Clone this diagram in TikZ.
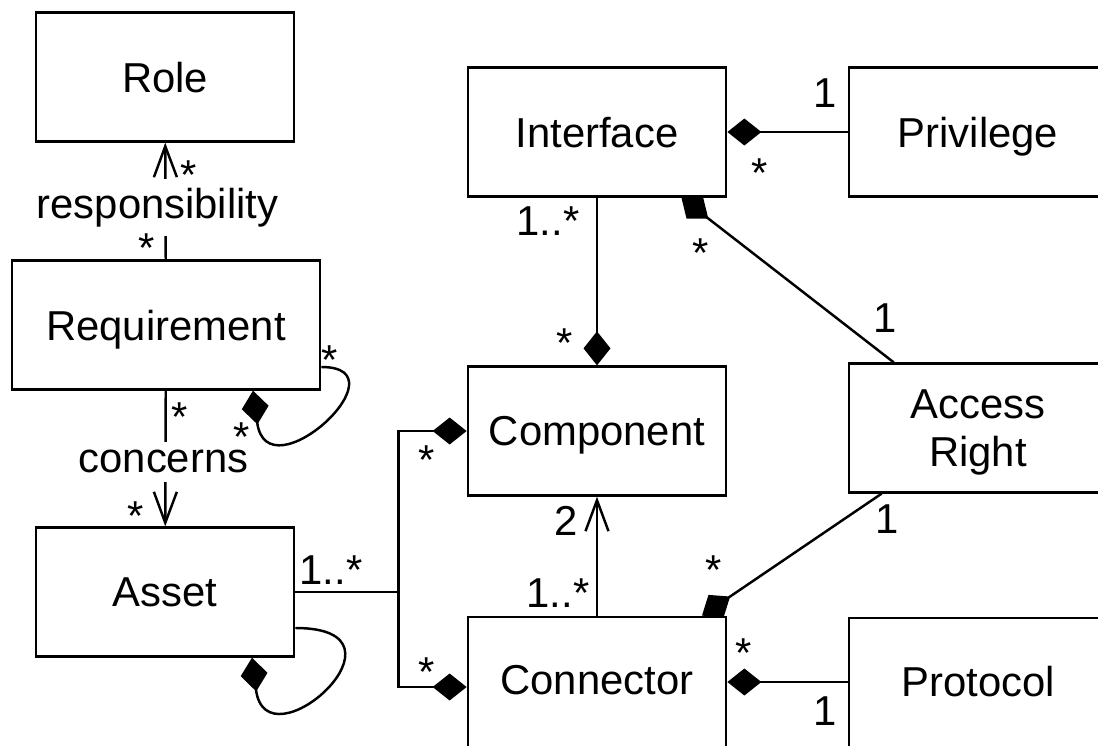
\documentclass[tikz,border=0pt]{standalone}
\usepackage{fontspec}
\setmainfont{Liberation Sans}
\usetikzlibrary{arrows.meta,positioning}

\begin{document}
\begin{tikzpicture}[x=0.02cm,y=-0.02cm,every node/.style={font=\fontsize{23.8}{27.3}\selectfont},
   cls/.style={draw,fill=white,line width=1.6pt,minimum width=5.16cm,minimum height=2.57cm,inner sep=0pt,align=center,text depth=0pt},
   cut/.style={minimum height=2.8cm,text depth=0.28cm},
   assoc/.style={line width=1.4pt},
   compo/.style={assoc,{Diamond[length=0.68cm,width=0.54cm]}-},
   navig/.style={assoc,-{Straight Barb[length=0.62cm,width=0.46cm]}},
   lbl/.style={fill=white,inner xsep=2pt,inner ysep=5pt},
   mstar/.style={anchor=base,yshift=-0.48cm,inner sep=0pt},
   mnum/.style={anchor=base,yshift=-0.3cm,inner sep=0pt}]
  \useasboundingbox (0,0) rectangle (1098,745);
  \clip (0,0) rectangle (1098,745);
  \node[cls](role) at (165,77){Role};
  \node[cls,minimum width=6.16cm](req) at (166,325){Requirement};
  \node[cls](asset) at (165,592){Asset};
  \node[cls](iface) at (597,132){Interface};
  \node[cls](priv) at (978,132){Privilege};
  \node[cls](comp) at (597,431){Component};
  \node[cls](access) at (978,428){Access\\Right};
  \node[cls,cut](conn) at (597,687){Connector};
  \node[cls,cut](proto) at (978,688){Protocol};
  \coordinate (fork) at ([xshift=2.06cm]asset.east);
  \draw[navig](req) -- node[lbl,pos=0.445,xshift=-0.16cm]{responsibility}(role);
  \draw[navig](req) -- node[lbl,pos=0.525,xshift=-0.04cm]{concerns}(asset);
  \draw[navig](conn) -- (comp);
  \foreach \a/\b in {comp/iface,iface/priv,iface/access,conn/access}\draw[compo](\a) -- (\b);
  \draw[compo]([yshift=0.1cm]conn.east) -- ([yshift=0.1cm]conn.east -| proto.west);
  \draw[compo](comp.west) -| (fork) -- (asset.east);
  \draw[compo](conn.west) -| (fork);
  \draw[compo]([xshift=1.74cm]req.south) .. controls +(14,106) and +(86,0) .. ([yshift=-0.84cm]req.east);
  \draw[compo]([xshift=1.74cm]asset.south) .. controls +(14,112) and +(128,0) .. ([yshift=-0.72cm]asset.east);
  \foreach \x/\y [count=\i] in {189/165,147/238,330/350,180/407,242/427,136/506,427/450,427/662,760/163,701/243,565/333,714/560,744/643}
    \node[mstar](star\i) at (\x,\y){*};
  \foreach \x/\y/\t [count=\i] in {825/92/1,885/317/1,887/518/1,825/710/1,566/520/2,331/569/1..*,548/220/1..*,558/592/1..*}
    \node[mnum](num\i) at (\x,\y){\t};
\end{tikzpicture}
\end{document}
